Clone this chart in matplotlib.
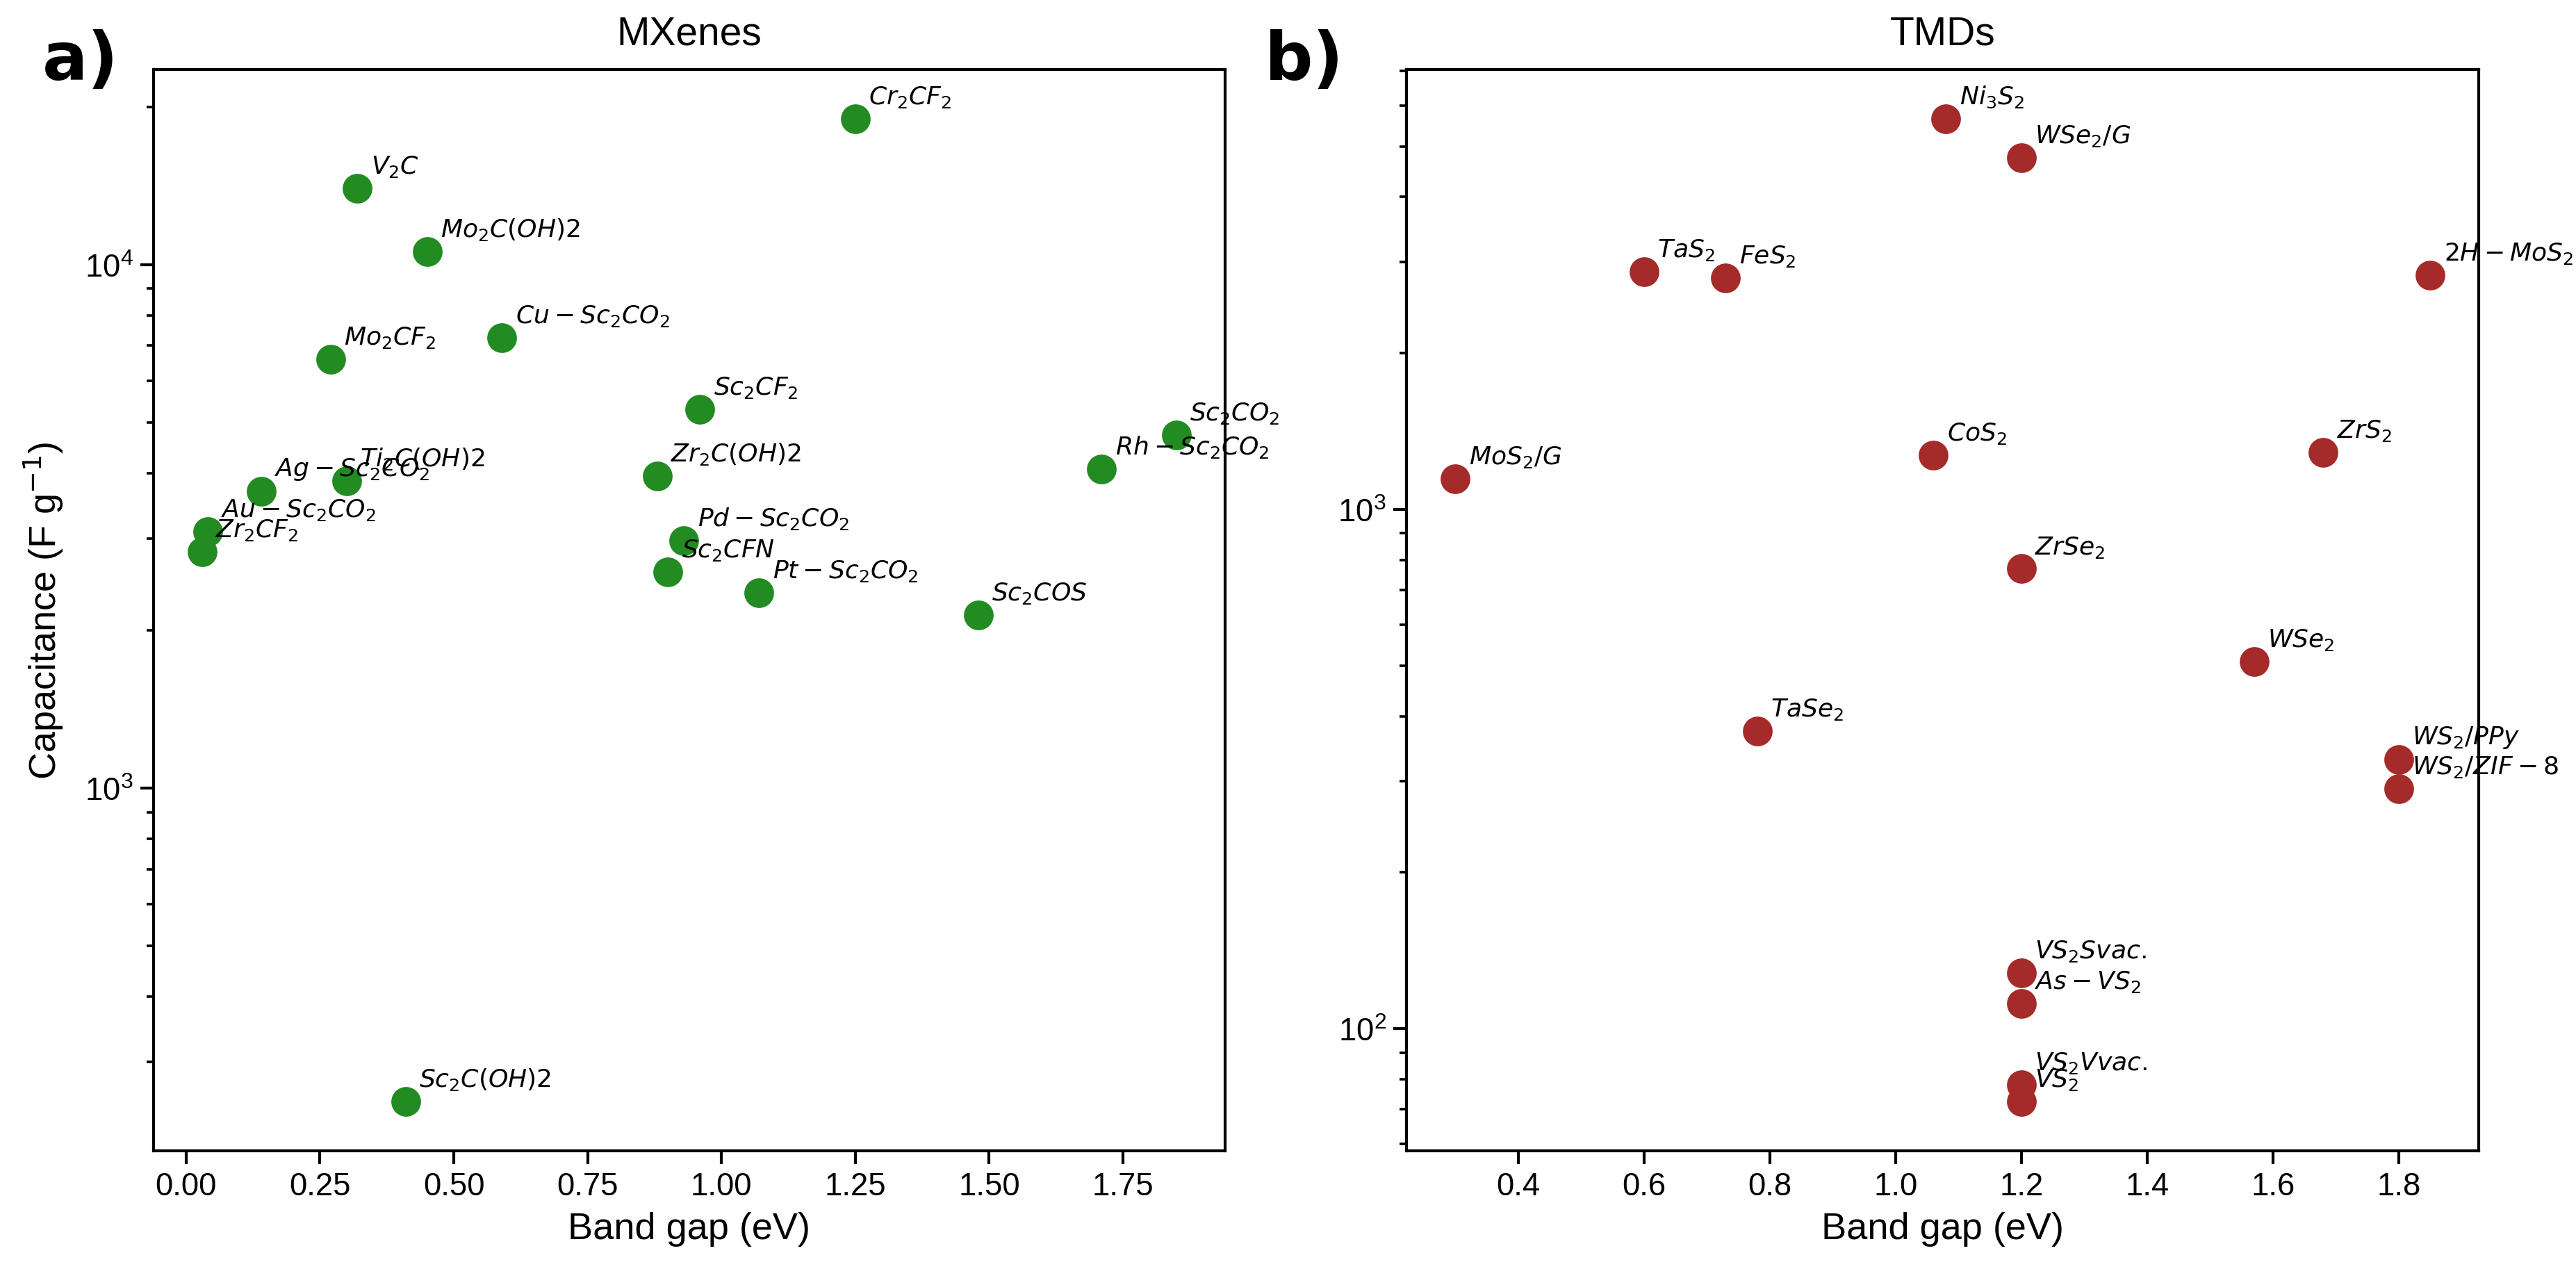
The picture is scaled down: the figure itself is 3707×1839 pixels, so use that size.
import numpy as np
import matplotlib
matplotlib.use('Agg')
import matplotlib.pyplot as plt

plt.rcParams['font.family'] = ['Liberation Sans', 'DejaVu Sans']
plt.rcParams['mathtext.fontset'] = 'dejavusans'

# MXenes: band gap (eV) and capacitance (F/g)
mx_names = ['$Cr_2CF_2$', '$V_2C$', '$Mo_2C(OH)2$', '$Cu-Sc_2CO_2$', '$Mo_2CF_2$',
            '$Sc_2CF_2$', '$Sc_2CO_2$', '$Rh-Sc_2CO_2$', '$Zr_2C(OH)2$', '$Ti_2C(OH)2$',
            '$Ag-Sc_2CO_2$', '$Au-Sc_2CO_2$', '$Zr_2CF_2$', '$Pd-Sc_2CO_2$', '$Sc_2CFN$',
            '$Pt-Sc_2CO_2$', '$Sc_2COS$', '$Sc_2C(OH)2$']
mx_gap = [1.25, 0.32, 0.45, 0.59, 0.27, 0.96, 1.85, 1.71, 0.88, 0.30,
          0.14, 0.04, 0.03, 0.93, 0.90, 1.07, 1.48, 0.41]
mx_cap = [19000, 14000, 10600, 7250, 6600, 5300, 4730, 4070, 3950, 3860,
          3690, 3090, 2830, 2970, 2590, 2360, 2140, 252]

# TMDs
tmd_names = ['$Ni_3S_2$', '$WSe_2/G$', '$TaS_2$', '$FeS_2$', '$2H-MoS_2$', '$CoS_2$',
             '$ZrS_2$', '$MoS_2/G$', '$ZrSe_2$', '$WSe_2$', '$TaSe_2$', '$WS_2/PPy$',
             '$WS_2/ZIF-8$', '$VS_2Svac.$', '$As-VS_2$', '$VS_2Vvac.$', '$VS_2$']
tmd_gap = [1.08, 1.20, 0.60, 0.73, 1.85, 1.06, 1.68, 0.30, 1.20, 1.57, 0.78, 1.80,
           1.80, 1.20, 1.20, 1.20, 1.20]
tmd_cap = [5660, 4760, 2870, 2790, 2830, 1274, 1288, 1147, 769, 510, 374, 330,
           290, 128, 112, 78, 72.4]

fig = plt.figure(figsize=(18.535, 9.2), dpi=200)
ax1 = fig.add_axes([0.0596, 0.0995, 0.416, 0.8456])
ax2 = fig.add_axes([0.546, 0.0995, 0.4163, 0.8456])


def panel(ax, gap, cap, names, color, title):
    ax.scatter(gap, cap, s=207, color=color, zorder=1)
    for n, x, y in zip(names, gap, cap):
        ax.annotate(n, (x, y), xytext=(7, 5), textcoords='offset points',
                    fontsize=13, ha='left', va='bottom')
    ax.set_yscale('log')
    ax.set_title(title, fontsize=20.5, pad=13)
    ax.set_xlabel('Band gap (eV)', fontsize=19.5, labelpad=5)
    ax.tick_params(which='major', labelsize=16.4, length=7, width=1.5)
    ax.tick_params(which='minor', length=3.5, width=1.3)
    for sp in ax.spines.values():
        sp.set_linewidth(1.5)


panel(ax1, mx_gap, mx_cap, mx_names, 'forestgreen', 'MXenes')
panel(ax2, tmd_gap, tmd_cap, tmd_names, 'brown', 'TMDs')
ax1.set_ylabel('Capacitance (F g$^{-1}$)', fontsize=19.5, labelpad=10)

fig.text(0.0165, 0.9375, 'a)', fontsize=35, fontweight='bold', family='DejaVu Sans')
fig.text(0.491, 0.9375, 'b)', fontsize=35, fontweight='bold', family='DejaVu Sans')

fig.savefig('out.png', dpi=200)
